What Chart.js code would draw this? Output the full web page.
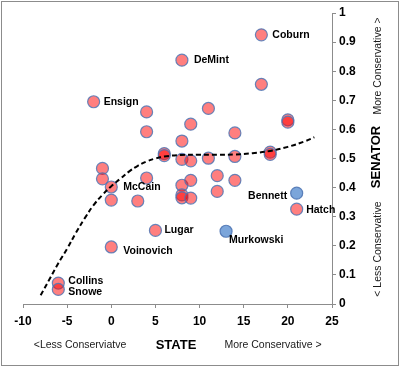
<!DOCTYPE html>
<html>
<head>
<meta charset="utf-8">
<script src="https://cdn.jsdelivr.net/npm/chart.js@4/dist/chart.umd.min.js"></script>
<style>
  html, body { margin: 0; padding: 0; background: #fff; }
  #wrap { width: 400px; height: 369px; }
</style>
</head>
<body>
<div id="wrap"><canvas id="c" width="400" height="369"></canvas></div>
<script>
// ---- Data ----
// Republican senators (red): state conservatism (x) vs senator conservatism (y)
const redNames = ["Coburn","DeMint","","Ensign","","","","","","","","","","","","","","","","","","","McCain","","","","","","","","","","","","Hatch","Lugar","Voinovich","Collins","Snowe"];
const redX = [17, 8, 17, -2, 4, 11, 9, 20, 20, 4, 14, 8, 6, 6, 8, 9, 11, 14, 18, 18, -1, -1, 0, 4, 8, 9, 12, 14, 12, 0, 3, 8, 8, 9, 21, 5, 0, -6, -6];
const redY = [0.925, 0.838, 0.755, 0.695, 0.66, 0.672, 0.618, 0.633, 0.625, 0.592, 0.588, 0.56, 0.517, 0.51, 0.497, 0.492, 0.501, 0.507, 0.522, 0.514, 0.466, 0.43, 0.402, 0.433, 0.408, 0.425, 0.441, 0.425, 0.387, 0.357, 0.354, 0.375, 0.365, 0.364, 0.326, 0.253, 0.196, 0.072, 0.05];
// Highlighted senators (blue)
const blueNames = ["Bennett", "Murkowski"];
const blueX = [21, 13];
const blueY = [0.381, 0.25];
// Dashed trend line
const trendX = [-8, -7, -6, -5, -4, -3, -2, -1, 0, 1, 2, 3, 4, 5, 6, 8, 10, 12, 14, 16, 18, 20, 22, 23];
const trendY = [0.03, 0.085, 0.14, 0.19, 0.245, 0.295, 0.34, 0.375, 0.405, 0.43, 0.455, 0.475, 0.49, 0.5, 0.507, 0.512, 0.513, 0.513, 0.514, 0.518, 0.526, 0.54, 0.56, 0.573];
// Axis ticks
const xTicks = [-10, -5, 0, 5, 10, 15, 20, 25];
const yTicks = [0, 0.1, 0.2, 0.3, 0.4, 0.5, 0.6, 0.7, 0.8, 0.9, 1];

// ---- Label placement styles (offsets from point, px) ----
const labelStyle = {
  Coburn: {dx: 11, dy: 0, align: "left"},
  DeMint: {dx: 12, dy: 0, align: "left"},
  Ensign: {dx: 10, dy: 0, align: "left"},
  McCain: {dx: 12, dy: 0, align: "left"},
  Lugar: {dx: 9, dy: 0, align: "left"},
  Voinovich: {dx: 12, dy: 4, align: "left"},
  Collins: {dx: 10, dy: -2, align: "left"},
  Snowe: {dx: 10, dy: 3, align: "left"},
  Hatch: {dx: 9.5, dy: 1, align: "left"},
  Bennett: {dx: -9.5, dy: 2.5, align: "right"},
  Murkowski: {dx: 3, dy: 8.5, align: "left"}
};

const toPts = (xs, ys) => xs.map((x, i) => ({x: x, y: ys[i]}));

const FONT = "Arial, 'Liberation Sans', sans-serif";

const decorPlugin = {
  id: "decor",
  beforeDraw(chart) {
    const ctx = chart.ctx;
    ctx.save();
    ctx.fillStyle = "#fff";
    ctx.fillRect(0, 0, chart.width, chart.height);
    ctx.restore();
  },
  afterDraw(chart) {
    const ctx = chart.ctx;
    const xs = chart.scales.x, ys = chart.scales.y;
    ctx.save();
    // point labels
    ctx.font = "bold 10.5px " + FONT;
    ctx.fillStyle = "#000";
    ctx.textBaseline = "middle";
    const drawNames = (names, xv, yv) => {
      names.forEach((n, i) => {
        if (!n) return;
        const st = labelStyle[n] || {dx: 10, dy: 0, align: "left"};
        ctx.textAlign = st.align;
        ctx.fillText(n, xs.getPixelForValue(xv[i]) + st.dx, ys.getPixelForValue(yv[i]) + st.dy);
      });
    };
    drawNames(redNames, redX, redY);
    drawNames(blueNames, blueX, blueY);

    // bottom annotations
    const by = 345;
    ctx.textAlign = "center";
    ctx.fillStyle = "#1a1a1a";
    ctx.font = "10.5px " + FONT;
    ctx.fillText("<Less Conserviatve", 80, by);
    ctx.fillText("More Conservative >", 273, by);
    ctx.font = "bold 13px " + FONT;
    ctx.fillStyle = "#000";
    ctx.fillText("STATE", 176, by);

    // right annotations (rotated, reading bottom to top)
    const rot = (text, x, y, font) => {
      ctx.save();
      ctx.translate(x, y);
      ctx.rotate(-Math.PI / 2);
      ctx.font = font;
      ctx.textAlign = "center";
      ctx.textBaseline = "middle";
      ctx.fillText(text, 0, 0);
      ctx.restore();
    };
    ctx.fillStyle = "#000";
    rot("SENATOR", 376, 157, "bold 13px " + FONT);
    ctx.fillStyle = "#1a1a1a";
    rot("More Conservative >", 378, 66, "10.5px " + FONT);
    rot("< Less Conservative", 378, 249, "10.5px " + FONT);

    // outer border
    ctx.strokeStyle = "#8c8c8c";
    ctx.lineWidth = 1;
    ctx.strokeRect(1.5, 1.5, 397, 364);
    ctx.restore();
  }
};

new Chart(document.getElementById("c"), {
  type: "scatter",
  data: {
    datasets: [
      {
        label: "Trend",
        data: toPts(trendX, trendY),
        showLine: true,
        borderColor: "#000",
        borderWidth: 2,
        borderDash: [5, 3],
        pointRadius: 0,
        tension: 0.4,
        fill: false
      },
      {
        label: "Blue",
        data: toPts(blueX, blueY),
        backgroundColor: "rgba(79,135,205,0.75)",
        borderColor: "rgba(79,118,180,0.9)",
        borderWidth: 1.2,
        pointRadius: 6
      },
      {
        label: "Red",
        data: toPts(redX, redY),
        backgroundColor: "rgba(255,0,0,0.5)",
        borderColor: "rgba(79,118,180,0.85)",
        borderWidth: 1.2,
        pointRadius: 6
      }
    ]
  },
  options: {
    responsive: false,
    animation: false,
    events: [],
    layout: { padding: { left: 23, top: 13, right: 0, bottom: 0 } },
    plugins: { legend: { display: false }, tooltip: { enabled: false } },
    scales: {
      x: {
        type: "linear",
        position: "bottom",
        min: xTicks[0],
        max: xTicks[xTicks.length - 1],
        afterBuildTicks(s) { s.ticks = xTicks.map(v => ({value: v})); },
        afterFit(s) { s.height = 65; },
        border: { display: true, color: "#8c8c8c", width: 1 },
        grid: { display: true, drawOnChartArea: false, drawTicks: true, tickLength: 4, color: "#8c8c8c" },
        ticks: { color: "#000", font: { family: FONT, size: 12, weight: "bold" }, padding: 6, maxRotation: 0,
                 callback: v => String(v) }
      },
      y: {
        type: "linear",
        position: "right",
        min: yTicks[0],
        max: yTicks[yTicks.length - 1],
        afterBuildTicks(s) { s.ticks = yTicks.map(v => ({value: v})); },
        afterFit(s) { s.width = 68; },
        border: { display: true, color: "#8c8c8c", width: 1 },
        grid: { display: true, drawOnChartArea: false, drawTicks: true, tickLength: 4, color: "#8c8c8c" },
        ticks: { color: "#000", font: { family: FONT, size: 12, weight: "bold" }, padding: 3,
                 callback: v => String(Math.round(v * 10) / 10) }
      }
    }
  },
  plugins: [decorPlugin]
});
</script>
</body>
</html>
